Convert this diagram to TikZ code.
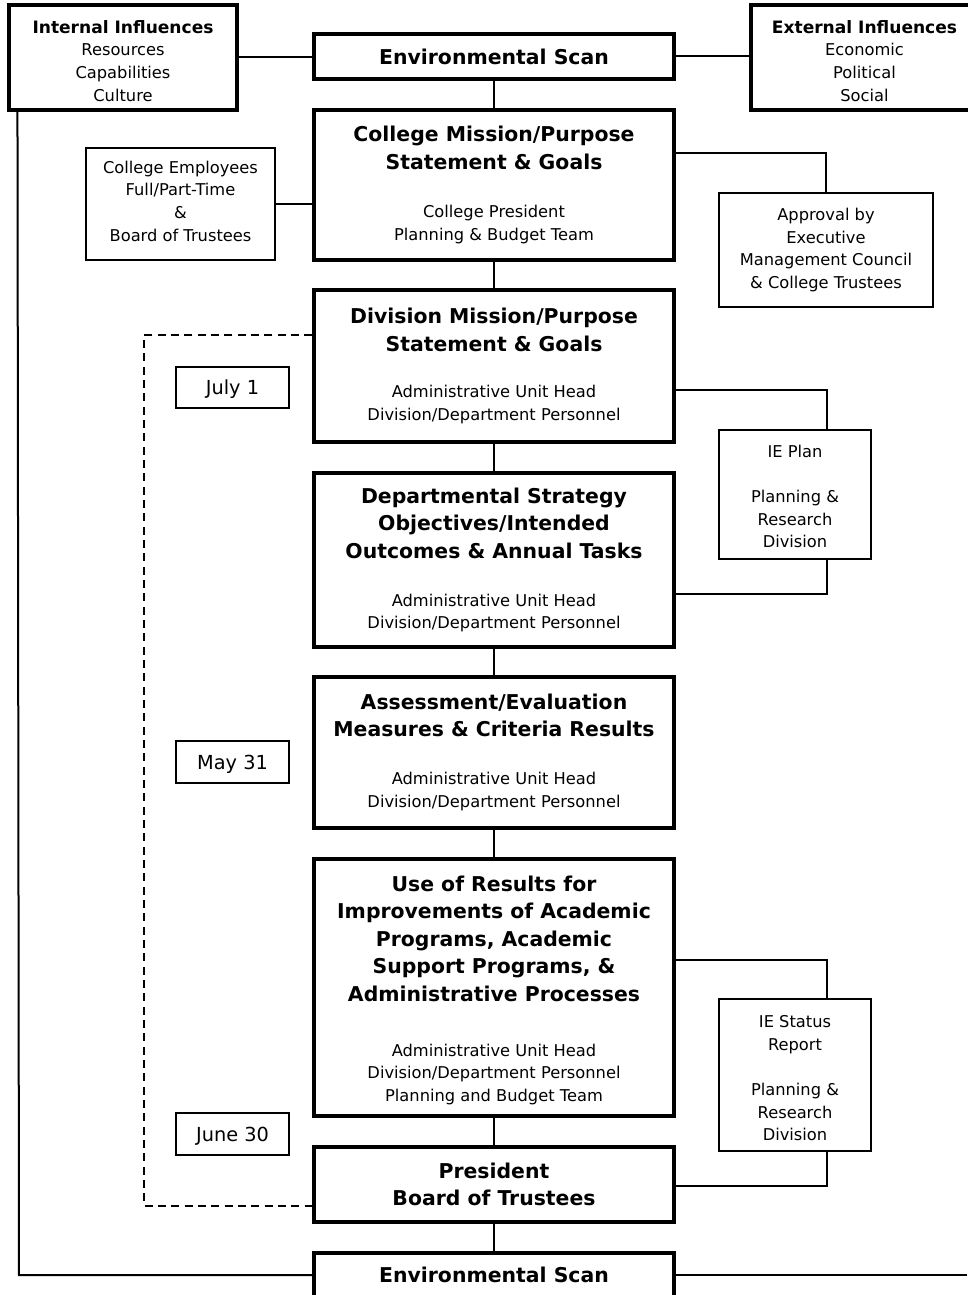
\documentclass[tikz,border=0pt]{standalone}
\usepackage{fontspec}
\setmainfont{DejaVu Sans}
\usetikzlibrary{calc}
\newcommand\rgf{\fontsize{12.2}{17}\selectfont}
\newcommand\bdf{\fontsize{15.3}{20.6}\selectfont\bfseries}
\newcommand\hdf{\fontsize{12.8}{17}\selectfont\bfseries}
\newcommand\dtf{\fontsize{14.5}{17}\selectfont}
\newcommand\topst[1]{\rule{0pt}{#1}}
\newcommand\botst[1]{\rule[-#1]{0pt}{#1}}
\tikzset{
  mainbox/.style={draw, line width=2.3pt, inner sep=0pt, align=center, font=\rgf, minimum width=270pt},
  smallbox/.style={draw, line width=1.9pt, inner sep=0pt, align=center, font=\rgf},
  datebox/.style={draw, line width=1.9pt, inner sep=0pt, align=center, font=\dtf, minimum width=84.75pt},
  conn/.style={line width=1.5pt},
  dashln/.style={line width=1.6pt, dash pattern=on 6pt off 4pt}
}
\begin{document}
\begin{tikzpicture}[x=0.75pt, y=-0.75pt]
\useasboundingbox (0,0) rectangle (967,1295);
\fill[white] (0,0) rectangle (967,1295);

% top row
\node[mainbox, minimum width=171pt, minimum height=78.75pt] (intl) at (123,57.5)
  {\topst{14.5pt}{\hdf Internal Influences}\\Resources\\Capabilities\\Culture};
\node[mainbox, minimum height=33.75pt] (envt) at (494,56.5) {{\bdf Environmental Scan}};
\node[mainbox, minimum width=170.25pt, minimum height=78.75pt] (extl) at (864.5,57.5)
  {\topst{14.5pt}{\hdf External Influences}\\Economic\\Political\\Social};

% college mission
\node[mainbox, minimum height=112.5pt] (cm) at (494,185)
  {{\bdf College Mission/Purpose}\\[3.6pt]{\bdf Statement \& Goals}\\[19pt]College President\\Planning \& Budget Team};
\node[smallbox, minimum width=141.75pt, minimum height=84pt] (emp) at (180.5,204)
  {College Employees\\Full/Part-Time\\\&\\Board of Trustees\botst{4.5pt}};
\node[smallbox, minimum width=160.5pt, minimum height=85.5pt] (appr) at (826,250)
  {Approval by\\Executive\\Management Council\\\& College Trustees};

% division
\node[mainbox, minimum height=114pt] (div) at (494,366)
  {{\bdf Division Mission/Purpose}\\[3.6pt]{\bdf Statement \& Goals}\\[17.5pt]Administrative Unit Head\\Division/Department Personnel};
\node[datebox, minimum height=30.75pt] (jul) at (232.5,387.5) {\topst{14pt}July 1};
\node[smallbox, minimum width=114pt, minimum height=96.75pt] (iep) at (795,494.5)
  {\topst{12.3pt}IE Plan\\[17pt]Planning \&\\Research\\Division};

% departmental
\node[mainbox, minimum height=130.5pt] (dept) at (494,560)
  {{\bdf Departmental Strategy}\\[3.6pt]{\bdf Objectives/Intended}\\[3.6pt]{\bdf Outcomes \& Annual Tasks}\\[19pt]Administrative Unit Head\\Division/Department Personnel};

% assessment
\node[mainbox, minimum height=113.25pt] (assm) at (494,752.5)
  {{\bdf Assessment/Evaluation}\\[3.6pt]{\bdf Measures \& Criteria Results}\\[19pt]Administrative Unit Head\\Division/Department Personnel};
\node[datebox, minimum height=31.5pt] (may) at (232.5,762) {\topst{14pt}May 31};

% use of results
\node[mainbox, minimum height=192.75pt] (use) at (494,987.5)
  {\topst{16pt}{\bdf Use of Results for}\\[3.6pt]{\bdf Improvements of Academic}\\[3.6pt]{\bdf Programs, Academic}\\[3.6pt]{\bdf Support Programs, \&}\\[3.6pt]{\bdf Administrative Processes}\\[24.25pt]Administrative Unit Head\\Division/Department Personnel\\Planning and Budget Team};
\node[smallbox, minimum width=114pt, minimum height=114pt] (ies) at (795,1075)
  {\topst{13.8pt}IE Status\\Report\\[17pt]Planning \&\\Research\\Division};
\node[datebox, minimum height=31.5pt] (jun) at (232.5,1134) {\topst{14pt}June 30};

% president
\node[mainbox, minimum height=56.25pt] (pres) at (494,1184.5)
  {{\bdf President}\\[3.6pt]{\bdf Board of Trustees}};
\node[mainbox, minimum height=33pt] (envb) at (494,1275) {{\bdf Environmental Scan}};

% connectors
\draw[conn] (intl.east) -- (intl.east -| envt.west);
\draw[conn] (envt.east) -- (envt.east -| extl.west);
\draw[conn] (envt.south) -- (cm.north);
\draw[conn] (emp.east) -- (emp.east -| cm.west);
\draw[conn] ($(cm.north east)+(0,45)$) -| (appr.north);
\draw[conn] (cm.south) -- (div.north);
\draw[conn] ($(div.north east)+(0,102)$) -| ($(iep.north east)+(-45,0)$);
\draw[conn] ($(iep.south east)+(-45,0)$) |- ($(dept.north east)+(0,123)$);
\draw[conn] (div.south) -- (dept.north);
\draw[conn] (dept.south) -- (assm.north);
\draw[conn] (assm.south) -- (use.north);
\draw[conn] (use.south) -- (pres.north);
\draw[conn] (pres.south) -- (envb.north);
\draw[conn] ($(use.north east)+(0,103)$) -| ($(ies.north east)+(-45,0)$);
\draw[conn] ($(ies.south east)+(-45,0)$) |- ($(pres.north east)+(0,41)$);

% dashed return
\coordinate (dtl) at (144,335);
\coordinate (dbl) at (144,1206);
\draw[dashln] (dtl -| div.west) -- (dtl) -- (dbl) -- (dbl -| pres.west);

% outer loop
\coordinate (lbl) at (19,1275);
\coordinate (redge) at (967,1275);
\draw[conn] ($(intl.south west)+(10,0)$) -- (lbl) -- (envb.west);
\draw[conn] (envb.east) -- (redge);
\end{tikzpicture}
\end{document}
